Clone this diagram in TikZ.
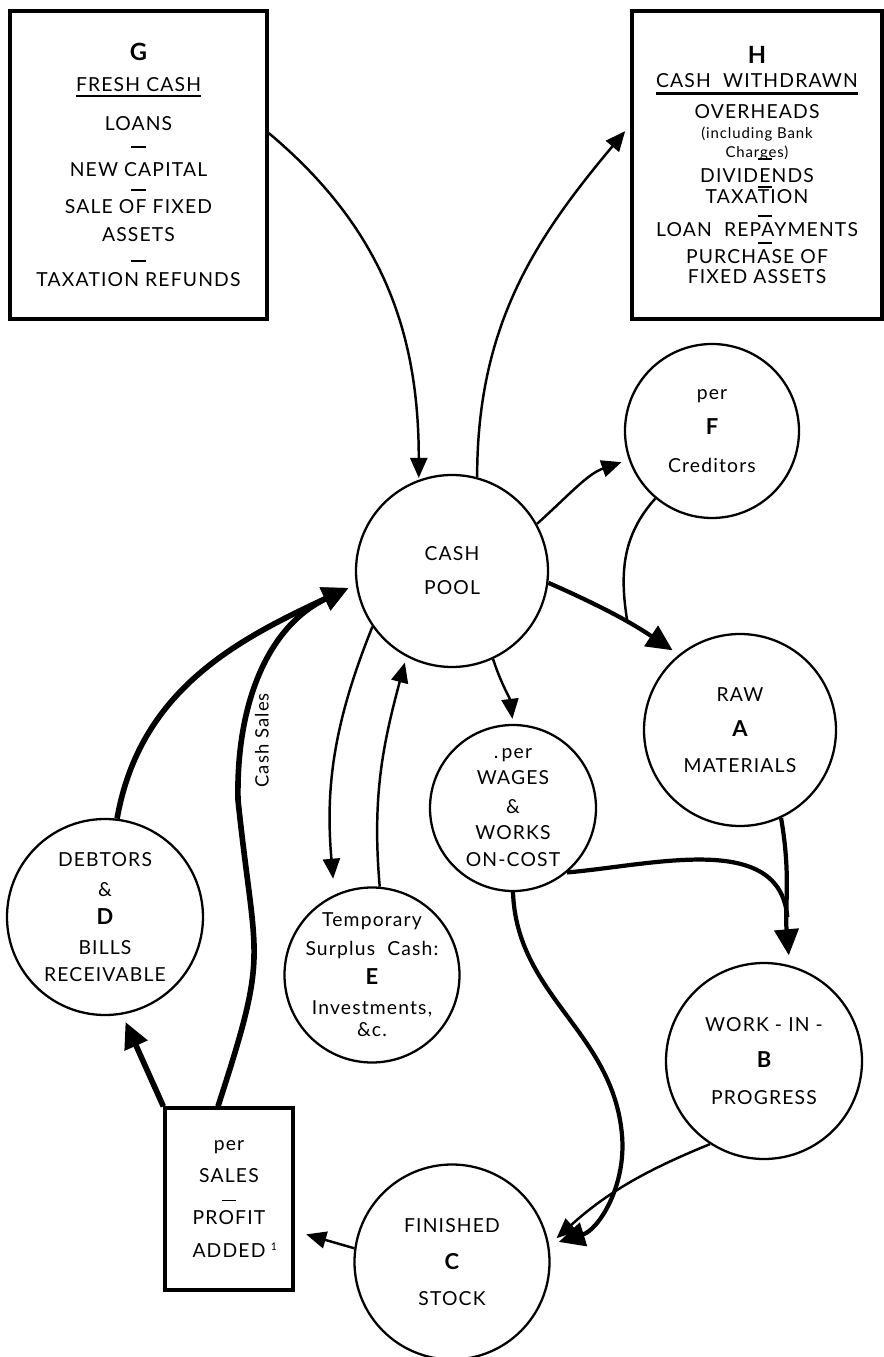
\documentclass[tikz,border=0pt]{standalone}
\usepackage{fontspec}
\setmainfont{Lato}[LetterSpace=6]
\usetikzlibrary{arrows.meta,positioning}

% every \\[..] gives the whole distance between two baselines
\newcommand{\flowfont}[1]{\fontsize{#1}{0}\selectfont\lineskiplimit=-\maxdimen}
\newcommand{\keyletter}[2][12.5]{{\fontsize{#1}{0}\selectfont\bfseries #2}}
\newcommand{\sepbar}[1][0pt]{\kern#1\rule[3.2pt]{8pt}{1pt}}
\newcommand{\ruled}[3]{\vtop{\hbox{#3}\kern#2\hrule height #1}}

\tikzset{
    %Define standard arrow tip
    >={Triangle[length=4mm,width=3.4mm]},
    %Define style for the circles
    stage/.style={
           circle,
           draw=black, line width=1.3pt,
           inner sep=-14pt,
           align=center,
           font=\flowfont{11}},
    %Define style for the boxes
    fund/.style={
           rectangle,
           draw=black, line width=1.9pt,
           inner sep=0pt,
           align=center,
           font=\flowfont{11}},
    % Define arrow styles
    flow/.style={
           ->,
           line width=1.4pt,
           shorten >=1pt},
    bigflow/.style={
           ->,
           line width=2.4pt,
           >={Triangle[length=5.2mm,width=4.8mm]},
           shorten >=1pt}
}

\begin{document}
\begin{tikzpicture}[node distance=1cm, on grid]
\useasboundingbox (-9.04,-15.72) rectangle (8.64,11.42);

 %nodes
\node[stage, minimum size=3.84cm] (pool) at (0,0) {CASH\\[19.3pt]POOL};
\node[fund, minimum width=5.14cm, minimum height=6.16cm, above left=8.12cm and 6.27cm of pool] (G)
  {\keyletter[13.5]{G}\\[17.6pt]
   \ruled{0.8pt}{1.8pt}{FRESH CASH}\\[22pt]
   LOANS\\[13pt]
   \sepbar\\[13pt]
   NEW CAPITAL\\[11.4pt]
   \sepbar\\[9.7pt]
   SALE OF FIXED\\[16pt]
   ASSETS\\[14.8pt]
   \sepbar\\[10.8pt]
   TAXATION REFUNDS};
\node[fund, minimum width=5.0cm, minimum height=6.16cm, above right=8.12cm and 6.10cm of pool] (H)
  {\keyletter[13.5]{H}\\[14pt]
   \ruled{1.6pt}{2.6pt}{CASH\ \ WITHDRAWN}\\[17.6pt]
   OVERHEADS\\[11.4pt]
   {\fontsize{8.5}{0}\selectfont (including Bank}\\[10.8pt]
   {\fontsize{8.5}{0}\selectfont Charges)}\\[4.5pt]
   \sepbar[9pt]\\[9.7pt]
   DIVIDENDS\\[6.3pt]
   \sepbar[9pt]\\[5.7pt]
   TAXATION\\[10.8pt]
   \sepbar[9pt]\\[8pt]
   LOAN\ \ REPAYMENTS\\[7.4pt]
   \sepbar[9pt]\\[8pt]
   PURCHASE OF\\[11.4pt]
   FIXED ASSETS};
\node[stage, minimum size=3.48cm, above right=2.8cm and 5.2cm of pool] (F)
  {per\\[20pt]\keyletter{F}\\[21.6pt]Creditors};
\node[stage, minimum size=3.84cm, below right=3.18cm and 5.76cm of pool] (A)
  {RAW\\[20pt]\keyletter{A}\\[20.5pt]MATERIALS};
\node[stage, minimum size=3.32cm, below right=4.74cm and 1.22cm of pool] (wages)
  {.\,per\\[14.8pt]WAGES\\[16.5pt]\&\\[14.8pt]WORKS\\[15.4pt]ON-COST};
\node[stage, minimum size=3.5cm, below left=8.08cm and 1.6cm of pool] (E)
  {Temporary\\[16pt]Surplus\ \ Cash:\\[17pt]\keyletter{E}\\[17pt]Investments,\\[12.5pt]\&c.};
\node[stage, minimum size=3.92cm, below left=6.92cm and 6.94cm of pool] (D)
  {DEBTORS\\[17pt]\&\\[16pt]\keyletter{D}\\[17pt]BILLS\\[15.4pt]RECEIVABLE};
\node[stage, minimum size=3.92cm, below right=9.8cm and 6.24cm of pool] (B)
  {WORK - IN -\\[20.5pt]\keyletter{B}\\[21pt]PROGRESS};
\node[stage, minimum size=3.9cm, below=13.82cm of pool] (C)
  {FINISHED\\[21pt]\keyletter{C}\\[20.5pt]STOCK};
\node[fund, minimum width=2.56cm, minimum height=3.64cm, below left=12.56cm and 4.46cm of pool] (sales)
  {per\\[18.2pt]SALES\\[14.2pt]\sepbar\\[10.2pt]PROFIT\\[18.8pt]ADDED\rlap{\kern3pt\raisebox{4pt}{\fontsize{6}{0}\selectfont 1}}};

 %cash in and out
\draw[flow] ([yshift=6.4mm]G.east) to[out=-40,in=90] (pool.110);
\draw[flow, shorten >=1.6mm] (pool.75) to[out=90,in=230] ([yshift=8mm]H.west);
\draw[flow, shorten >=1.5mm] (pool.29) to[out=42,in=199] (F.199);
\draw[bigflow, shorten >=1.5mm] (pool.-7) to[bend left=5] coordinate[pos=.6] (Fjoin) (A.129);
\draw[flow, -] (F.230) to[out=228,in=99] (Fjoin);
\draw[flow, shorten >=1mm] (pool.-65) to[out=-72,in=97] (wages.north);
\draw[flow, shorten >=3.2mm] (pool.215) to[out=-112,in=95] (E.115);
\draw[flow, shorten >=1.2mm] (E.85) to[out=95,in=-105] (pool.242);

 %production
\draw[bigflow, shorten >=2mm] (A.-65) to[out=-80,in=95] coordinate[pos=.7] (Bjoin) (B.75);
\draw[bigflow, -] (wages.-50) to[out=5,in=95] (Bjoin);
\draw[bigflow, shorten >=2mm] (wages.south) to[out=-88,in=95] (3.4,-11.28) to[out=-85,in=17] (C.10);
\draw[flow, shorten >=2mm] (B.237) to[bend right=10] (C.10);
\draw[flow, shorten >=2.4mm] (C.172) -- (sales.-26);

 %back to the pool
\draw[bigflow, line width=3.2pt, shorten >=1.6mm] (sales.north west) -- (D.-80);
\draw[bigflow, line width=3.2pt, shorten >=1.6mm] ([xshift=-2.2mm]sales.north)
    to[out=72,in=-84,looseness=1.4] (-4.28,-4.58)
    .. controls (-4.32,-2.58) and (-3.64,-1.08) .. node[pos=.21, anchor=north, rotate=90, font=\flowfont{10.5}, inner sep=6pt] {Cash Sales} (pool.188);
\draw[bigflow, line width=3.2pt, shorten >=1.6mm] (D.83) to[out=80,in=205] (pool.188);

\end{tikzpicture}
\end{document}
